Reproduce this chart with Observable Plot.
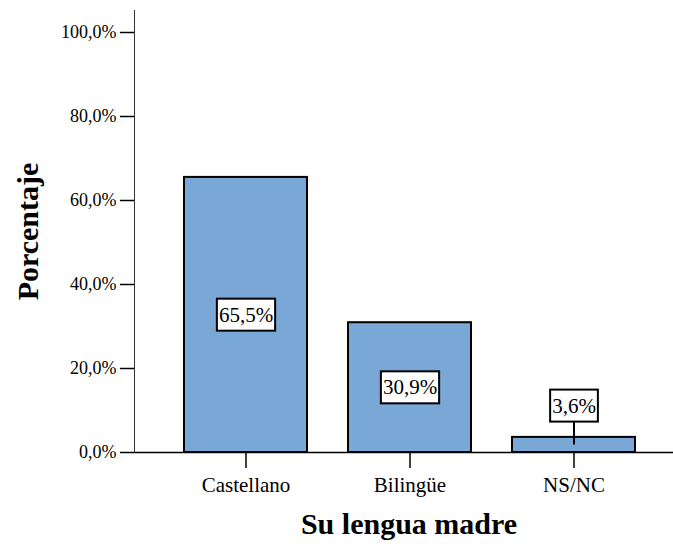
<!DOCTYPE html>
<html><head><meta charset="utf-8">
<script src="https://cdn.jsdelivr.net/npm/d3@7"></script>
<script src="https://cdn.jsdelivr.net/npm/@observablehq/plot@0.6"></script>
<style>body{margin:0;background:#fff} svg{display:block} svg text{font-family:"Liberation Serif","Times New Roman",serif}</style>
</head><body><div id="chart"></div>
<script>
const categories = ["Castellano", "Bilingüe", "NS/NC"];
const percentages = [65.5, 30.9, 3.6];
const yTicks = [0, 20, 40, 60, 80, 100];
const xTitle = "Su lengua madre";
const yTitle = "Porcentaje";

const data = categories.map((c, i) => ({cat: c, v: percentages[i]}));
const fmt = v => v.toFixed(1).replace(".", ",") + "%";
const small = d => d.v < 8;
const labelY = d => small(d) ? d.v + 7.5 : d.v / 2;
const FF = "Liberation Serif";

const plot = Plot.plot({
  width: 673, height: 545,
  marginLeft: 134, marginRight: 0, marginTop: 10, marginBottom: 93,
  style: {fontFamily: FF, fontSize: "18px", color: "#000", background: "#fff"},
  x: {domain: categories, paddingInner: 0.252, paddingOuter: 0.264, align: 0.563, label: null},
  y: {domain: [0, 105.24], label: null},
  marks: [
    Plot.barY(data, {x: "cat", y: "v", fill: "#7aa8d6", stroke: "#000", strokeWidth: 2}),
    Plot.ruleY([0], {stroke: "#000", strokeWidth: 1.5}),
    Plot.ruleX(data.filter(small), {x: "cat", y1: d => d.v / 2, y2: labelY, stroke: "#000", strokeWidth: 2}),
    Plot.text(data, {x: "cat", y: labelY, text: d => fmt(d.v), fontSize: 21, fontFamily: FF, fill: "#000"}),
    Plot.axisY(yTicks, {tickSize: 14, tickPadding: 4, tickFormat: fmt, strokeWidth: 1.5, fontSize: 18, fontFamily: FF, label: null}),
    Plot.axisX({tickSize: 16, tickPadding: 9, strokeWidth: 1.5, fontSize: 21, fontFamily: FF, label: null}),
    Plot.frame({anchor: "left", stroke: "#333"}),
    Plot.text([xTitle], {frameAnchor: "bottom", lineAnchor: "middle", textAnchor: "middle", dy: 72, dx: 5, fontSize: 30, fontWeight: "bold", fontFamily: FF, fill: "#000"}),
    Plot.text([yTitle], {frameAnchor: "left", lineAnchor: "middle", textAnchor: "middle", dx: -106, rotate: -90, fontSize: 30, fontWeight: "bold", fontFamily: FF, fill: "#000"})
  ]
});
document.getElementById("chart").appendChild(plot);

// white boxes behind the value labels
const labelGroup = plot.querySelectorAll("g[aria-label='text']")[0];
labelGroup.querySelectorAll("text").forEach(t => {
  const b = t.getBBox();
  const r = document.createElementNS("http://www.w3.org/2000/svg", "rect");
  const px = 2, py = 4;
  r.setAttribute("x", b.x - px);
  r.setAttribute("y", b.y - py);
  r.setAttribute("width", b.width + 2 * px);
  r.setAttribute("height", b.height + 2 * py);
  r.setAttribute("fill", "#fff");
  r.setAttribute("stroke", "#000");
  r.setAttribute("stroke-width", 2);
  const tr = t.getAttribute("transform");
  if (tr) r.setAttribute("transform", tr);
  labelGroup.insertBefore(r, t);
});
</script>
</body></html>
